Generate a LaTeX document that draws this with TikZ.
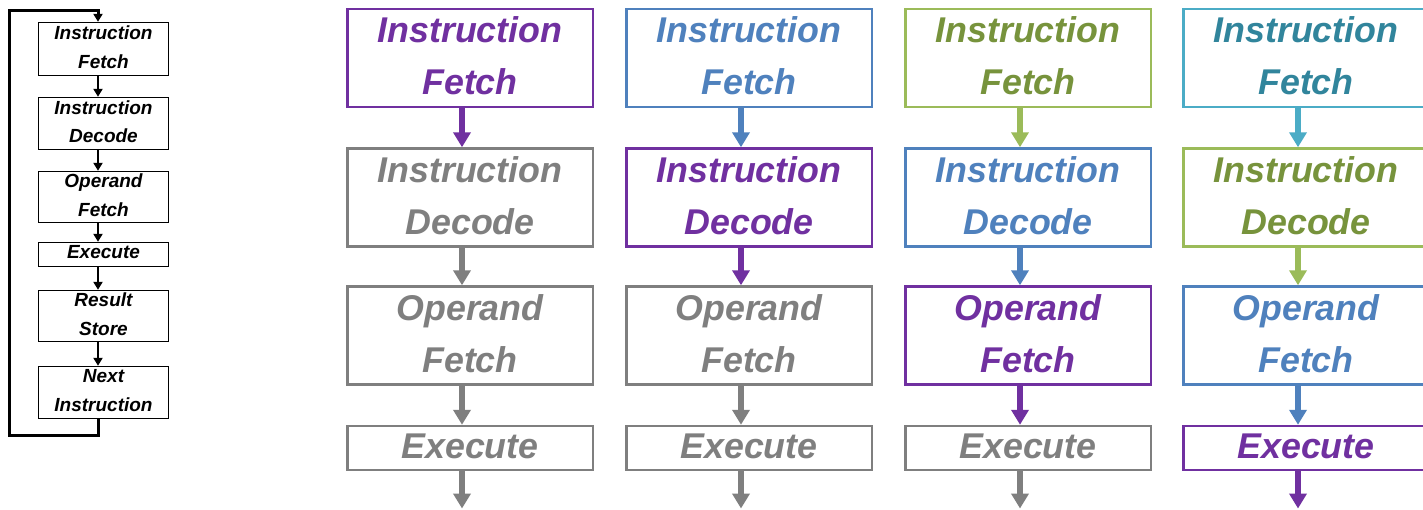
\documentclass[tikz,border=0pt]{standalone}
\usepackage{fontspec}
\setmainfont{Liberation Sans}
\usetikzlibrary{arrows.meta}

\definecolor{cPur}{HTML}{7030A0}
\definecolor{cGray}{HTML}{7F7F7F}
\definecolor{cBlue}{HTML}{4F81BD}
\definecolor{cGreen}{HTML}{9BBB59}
\definecolor{cGreenTxt}{HTML}{77933C}
\definecolor{cTeal}{HTML}{4BACC6}
\definecolor{cTealTxt}{HTML}{31859C}

\tikzset{
  % pipeline stage boxes
  stage/.style={draw, line width=2.5pt, minimum width=245.5pt, minimum height=98pt, inner sep=0pt},
  shortstage/.style={stage, minimum height=44pt},
  stxt/.style={font=\fontsize{35.8}{52}\selectfont\bfseries\itshape, align=center, inner sep=0pt},
  flow/.style={-{Triangle[width=17pt,length=15pt]}, line width=5.5pt},
  % colour schemes
  bPur/.style={draw=cPur}, tPur/.style={text=cPur}, aPur/.style={flow, draw=cPur},
  bGray/.style={draw=cGray}, tGray/.style={text=cGray}, aGray/.style={flow, draw=cGray},
  bBlue/.style={draw=cBlue}, tBlue/.style={text=cBlue}, aBlue/.style={flow, draw=cBlue},
  bGreen/.style={draw=cGreen}, tGreen/.style={text=cGreenTxt}, aGreen/.style={flow, draw=cGreen},
  bTeal/.style={draw=cTeal}, tTeal/.style={text=cTealTxt}, aTeal/.style={flow, draw=cTeal},
  % instruction cycle flowchart
  lbox/.style={draw, line width=1.4pt, minimum width=130pt, inner sep=0pt},
  ltxt/.style={font=\fontsize{19}{28.5}\selectfont\bfseries\itshape, align=center, inner sep=0pt},
  larrow/.style={-{Triangle[width=9pt,length=8pt]}, line width=2.4pt},
  loopline/.style={-{Triangle[width=9pt,length=8pt]}, line width=3pt},
}

\begin{document}
\begin{tikzpicture}[x=1pt, y=-1pt]
\useasboundingbox (0,0) rectangle (1423,509);
\fill[white] (0,0) rectangle (1423,509);
\clip (0,0) rectangle (1423,509);

% ---------- instruction cycle ----------
\node[lbox, minimum height=53pt] (l1) at (103.5,49) {};
\node[lbox, minimum height=52pt] (l2) at (103.5,123.5) {};
\node[lbox, minimum height=51pt] (l3) at (103.5,197) {};
\node[lbox, minimum height=24pt] (l4) at (103.5,254.5) {};
\node[lbox, minimum height=51pt] (l5) at (103.5,316) {};
\node[lbox, minimum height=52pt] (l6) at (103.5,392.5) {};

\node[ltxt] (l1t) at ([yshift=2pt]l1.center) {Instruction\\Fetch};
\node[ltxt] (l2t) at ([yshift=2pt]l2.center) {Instruction\\Decode};
\node[ltxt] (l3t) at ([yshift=2pt]l3.center) {Operand\\Fetch};
\node[ltxt] (l4t) at ([yshift=2pt]l4.center) {Execute};
\node[ltxt] (l5t) at ([yshift=2pt]l5.center) {Result\\Store};
\node[ltxt] (l6t) at ([yshift=2pt]l6.center) {Next\\Instruction};

\foreach \a/\b in {l1/l2, l2/l3, l3/l4, l4/l5, l5/l6}
  \draw[larrow] ([xshift=-5.5pt]\a.south) -- ([xshift=-5.5pt]\b.north);

\coordinate (lbot) at (9.5,435);
\coordinate (ltop) at (9.5,10);
\draw[loopline] ([xshift=-5.5pt]l6.south) |- (lbot) -- (ltop) -| ([xshift=-5.5pt]l1.north);

% ---------- pipeline columns ----------
% column 1
\node[stage, bPur]       (a1) at (470,58) {};
\node[stage, bGray]      (a2) at (470,197.5) {};
\node[stage, bGray]      (a3) at (470,335.5) {};
\node[shortstage, bGray] (a4) at (470,448) {};
% column 2
\node[stage, bBlue]      (b1) at (749,58) {};
\node[stage, bPur]       (b2) at (749,197.5) {};
\node[stage, bGray]      (b3) at (749,335.5) {};
\node[shortstage, bGray] (b4) at (749,448) {};
% column 3
\node[stage, bGreen]     (c1) at (1028,58) {};
\node[stage, bBlue]      (c2) at (1028,197.5) {};
\node[stage, bPur]       (c3) at (1028,335.5) {};
\node[shortstage, bGray] (c4) at (1028,448) {};
% column 4
\node[stage, bTeal]      (d1) at (1306,58) {};
\node[stage, bGreen]     (d2) at (1306,197.5) {};
\node[stage, bBlue]      (d3) at (1306,335.5) {};
\node[shortstage, bPur]  (d4) at (1306,448) {};

% labels
\node[stxt, tPur]   (a1t) at ([yshift=2pt]a1.center) {Instruction\\Fetch};
\node[stxt, tGray]  (a2t) at ([yshift=2pt]a2.center) {Instruction\\Decode};
\node[stxt, tGray]  (a3t) at ([yshift=2pt]a3.center) {Operand\\Fetch};
\node[stxt, tGray]  (a4t) at ([yshift=2pt]a4.center) {Execute};
\node[stxt, tBlue]  (b1t) at ([yshift=2pt]b1.center) {Instruction\\Fetch};
\node[stxt, tPur]   (b2t) at ([yshift=2pt]b2.center) {Instruction\\Decode};
\node[stxt, tGray]  (b3t) at ([yshift=2pt]b3.center) {Operand\\Fetch};
\node[stxt, tGray]  (b4t) at ([yshift=2pt]b4.center) {Execute};
\node[stxt, tGreen] (c1t) at ([yshift=2pt]c1.center) {Instruction\\Fetch};
\node[stxt, tBlue]  (c2t) at ([yshift=2pt]c2.center) {Instruction\\Decode};
\node[stxt, tPur]   (c3t) at ([yshift=2pt]c3.center) {Operand\\Fetch};
\node[stxt, tGray]  (c4t) at ([yshift=2pt]c4.center) {Execute};
\node[stxt, tTeal]  (d1t) at ([yshift=2pt]d1.center) {Instruction\\Fetch};
\node[stxt, tGreen] (d2t) at ([yshift=2pt]d2.center) {Instruction\\Decode};
\node[stxt, tBlue]  (d3t) at ([yshift=2pt]d3.center) {Operand\\Fetch};
\node[stxt, tPur]   (d4t) at ([yshift=2pt]d4.center) {Execute};

% free ends of the last arrows
\coordinate (aend) at (462,508.5);
\coordinate (bend) at (741,508.5);
\coordinate (cend) at (1020,508.5);
\coordinate (dend) at (1298,508.5);

% arrows between stages (coloured like the stage they leave)
\draw[aPur]   ([xshift=-8pt]a1.south) -- ([xshift=-8pt]a2.north);
\draw[aGray]  ([xshift=-8pt]a2.south) -- ([xshift=-8pt]a3.north);
\draw[aGray]  ([xshift=-8pt]a3.south) -- ([xshift=-8pt]a4.north);
\draw[aGray]  ([xshift=-8pt]a4.south) -- (aend);

\draw[aBlue]  ([xshift=-8pt]b1.south) -- ([xshift=-8pt]b2.north);
\draw[aPur]   ([xshift=-8pt]b2.south) -- ([xshift=-8pt]b3.north);
\draw[aGray]  ([xshift=-8pt]b3.south) -- ([xshift=-8pt]b4.north);
\draw[aGray]  ([xshift=-8pt]b4.south) -- (bend);

\draw[aGreen] ([xshift=-8pt]c1.south) -- ([xshift=-8pt]c2.north);
\draw[aBlue]  ([xshift=-8pt]c2.south) -- ([xshift=-8pt]c3.north);
\draw[aPur]   ([xshift=-8pt]c3.south) -- ([xshift=-8pt]c4.north);
\draw[aGray]  ([xshift=-8pt]c4.south) -- (cend);

\draw[aTeal]  ([xshift=-8pt]d1.south) -- ([xshift=-8pt]d2.north);
\draw[aGreen] ([xshift=-8pt]d2.south) -- ([xshift=-8pt]d3.north);
\draw[aBlue]  ([xshift=-8pt]d3.south) -- ([xshift=-8pt]d4.north);
\draw[aPur]   ([xshift=-8pt]d4.south) -- (dend);
\end{tikzpicture}
\end{document}
